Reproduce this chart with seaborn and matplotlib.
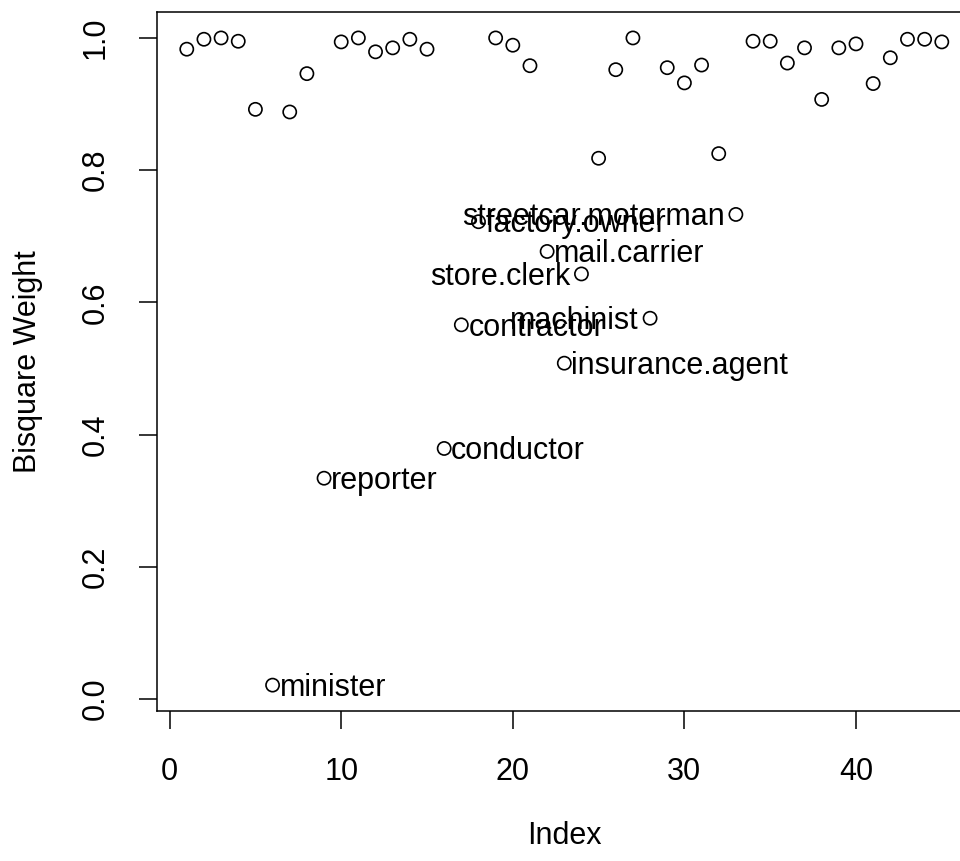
import matplotlib
matplotlib.use("Agg")
import matplotlib.pyplot as plt
import seaborn as sns
import pandas as pd

# ---- data ----
index = list(range(1, 46))
weights = [0.983, 0.998, 1.000, 0.995, 0.892, 0.021, 0.888, 0.946, 0.334, 0.994,
           1.000, 0.979, 0.985, 0.998, 0.983, 0.379, 0.566, 0.722, 1.000, 0.989,
           0.958, 0.677, 0.508, 0.643, 0.818, 0.952, 1.000, 0.576, 0.955, 0.932,
           0.959, 0.825, 0.733, 0.995, 0.995, 0.962, 0.985, 0.907, 0.985, 0.991,
           0.931, 0.970, 0.998, 0.998, 0.994]
label_idx = [6, 9, 16, 17, 18, 22, 23, 24, 28, 33]
label_names = ["minister", "reporter", "conductor", "contractor", "factory.owner",
               "mail.carrier", "insurance.agent", "store.clerk", "machinist",
               "streetcar.motorman"]
label_side = ["right", "right", "right", "right", "right",
              "right", "right", "left", "left", "left"]
x_ticks = [0, 10, 20, 30, 40]
y_ticks = [0.0, 0.2, 0.4, 0.6, 0.8, 1.0]
y_tick_labels = ["0.0", "0.2", "0.4", "0.6", "0.8", "1.0"]

sns.set_style("white")
plt.rcParams['font.family'] = ['Liberation Sans', 'DejaVu Sans']
plt.rcParams['text.color'] = 'black'

fig = plt.figure(figsize=(9.6, 8.61), dpi=100)
ax = fig.add_axes([0.1631, 0.1742, 0.8494, 0.8118])

df = pd.DataFrame({"Index": index, "Weight": weights})
sns.scatterplot(data=df, x="Index", y="Weight", ax=ax, marker="o", s=90,
                facecolors="none", edgecolor="black", linewidth=1.2, zorder=3)

# R-style 4% axis expansion
xr = max(index) - min(index)
yr = max(weights) - min(weights)
ax.set_xlim(min(index) - 0.04 * xr, max(index) + 0.04 * xr)
ax.set_ylim(min(weights) - 0.04 * yr, max(weights) + 0.04 * yr)

for i, name, side in zip(label_idx, label_names, label_side):
    w = weights[i - 1]
    dx = 5 if side == "right" else -8
    ax.annotate(name, (i, w), xytext=(dx, -2), textcoords="offset points",
                ha="left" if side == "right" else "right", va="center",
                fontsize=22, color="black", zorder=4)

ax.set_xticks(x_ticks)
ax.set_xticklabels([str(t) for t in x_ticks])
ax.set_yticks(y_ticks)
ax.set_yticklabels(y_tick_labels, rotation=90, va="center")
ax.tick_params(direction="out", length=13, width=1.1, labelsize=22, pad=20,
               colors="black", bottom=True, left=True)
for sp in ax.spines.values():
    sp.set_linewidth(1.1)
    sp.set_color("black")
ax.set_xlabel("")
ax.set_ylabel("")
fig.text(28 / 960, 1 - 362 / 861, "Bisquare Weight", rotation=90,
         ha="center", va="center", fontsize=22, color="black")
fig.text(564 / 960, 1 - 836 / 861, "Index", ha="center", va="center",
         fontsize=22, color="black")

fig.savefig("out.png", dpi=100)
